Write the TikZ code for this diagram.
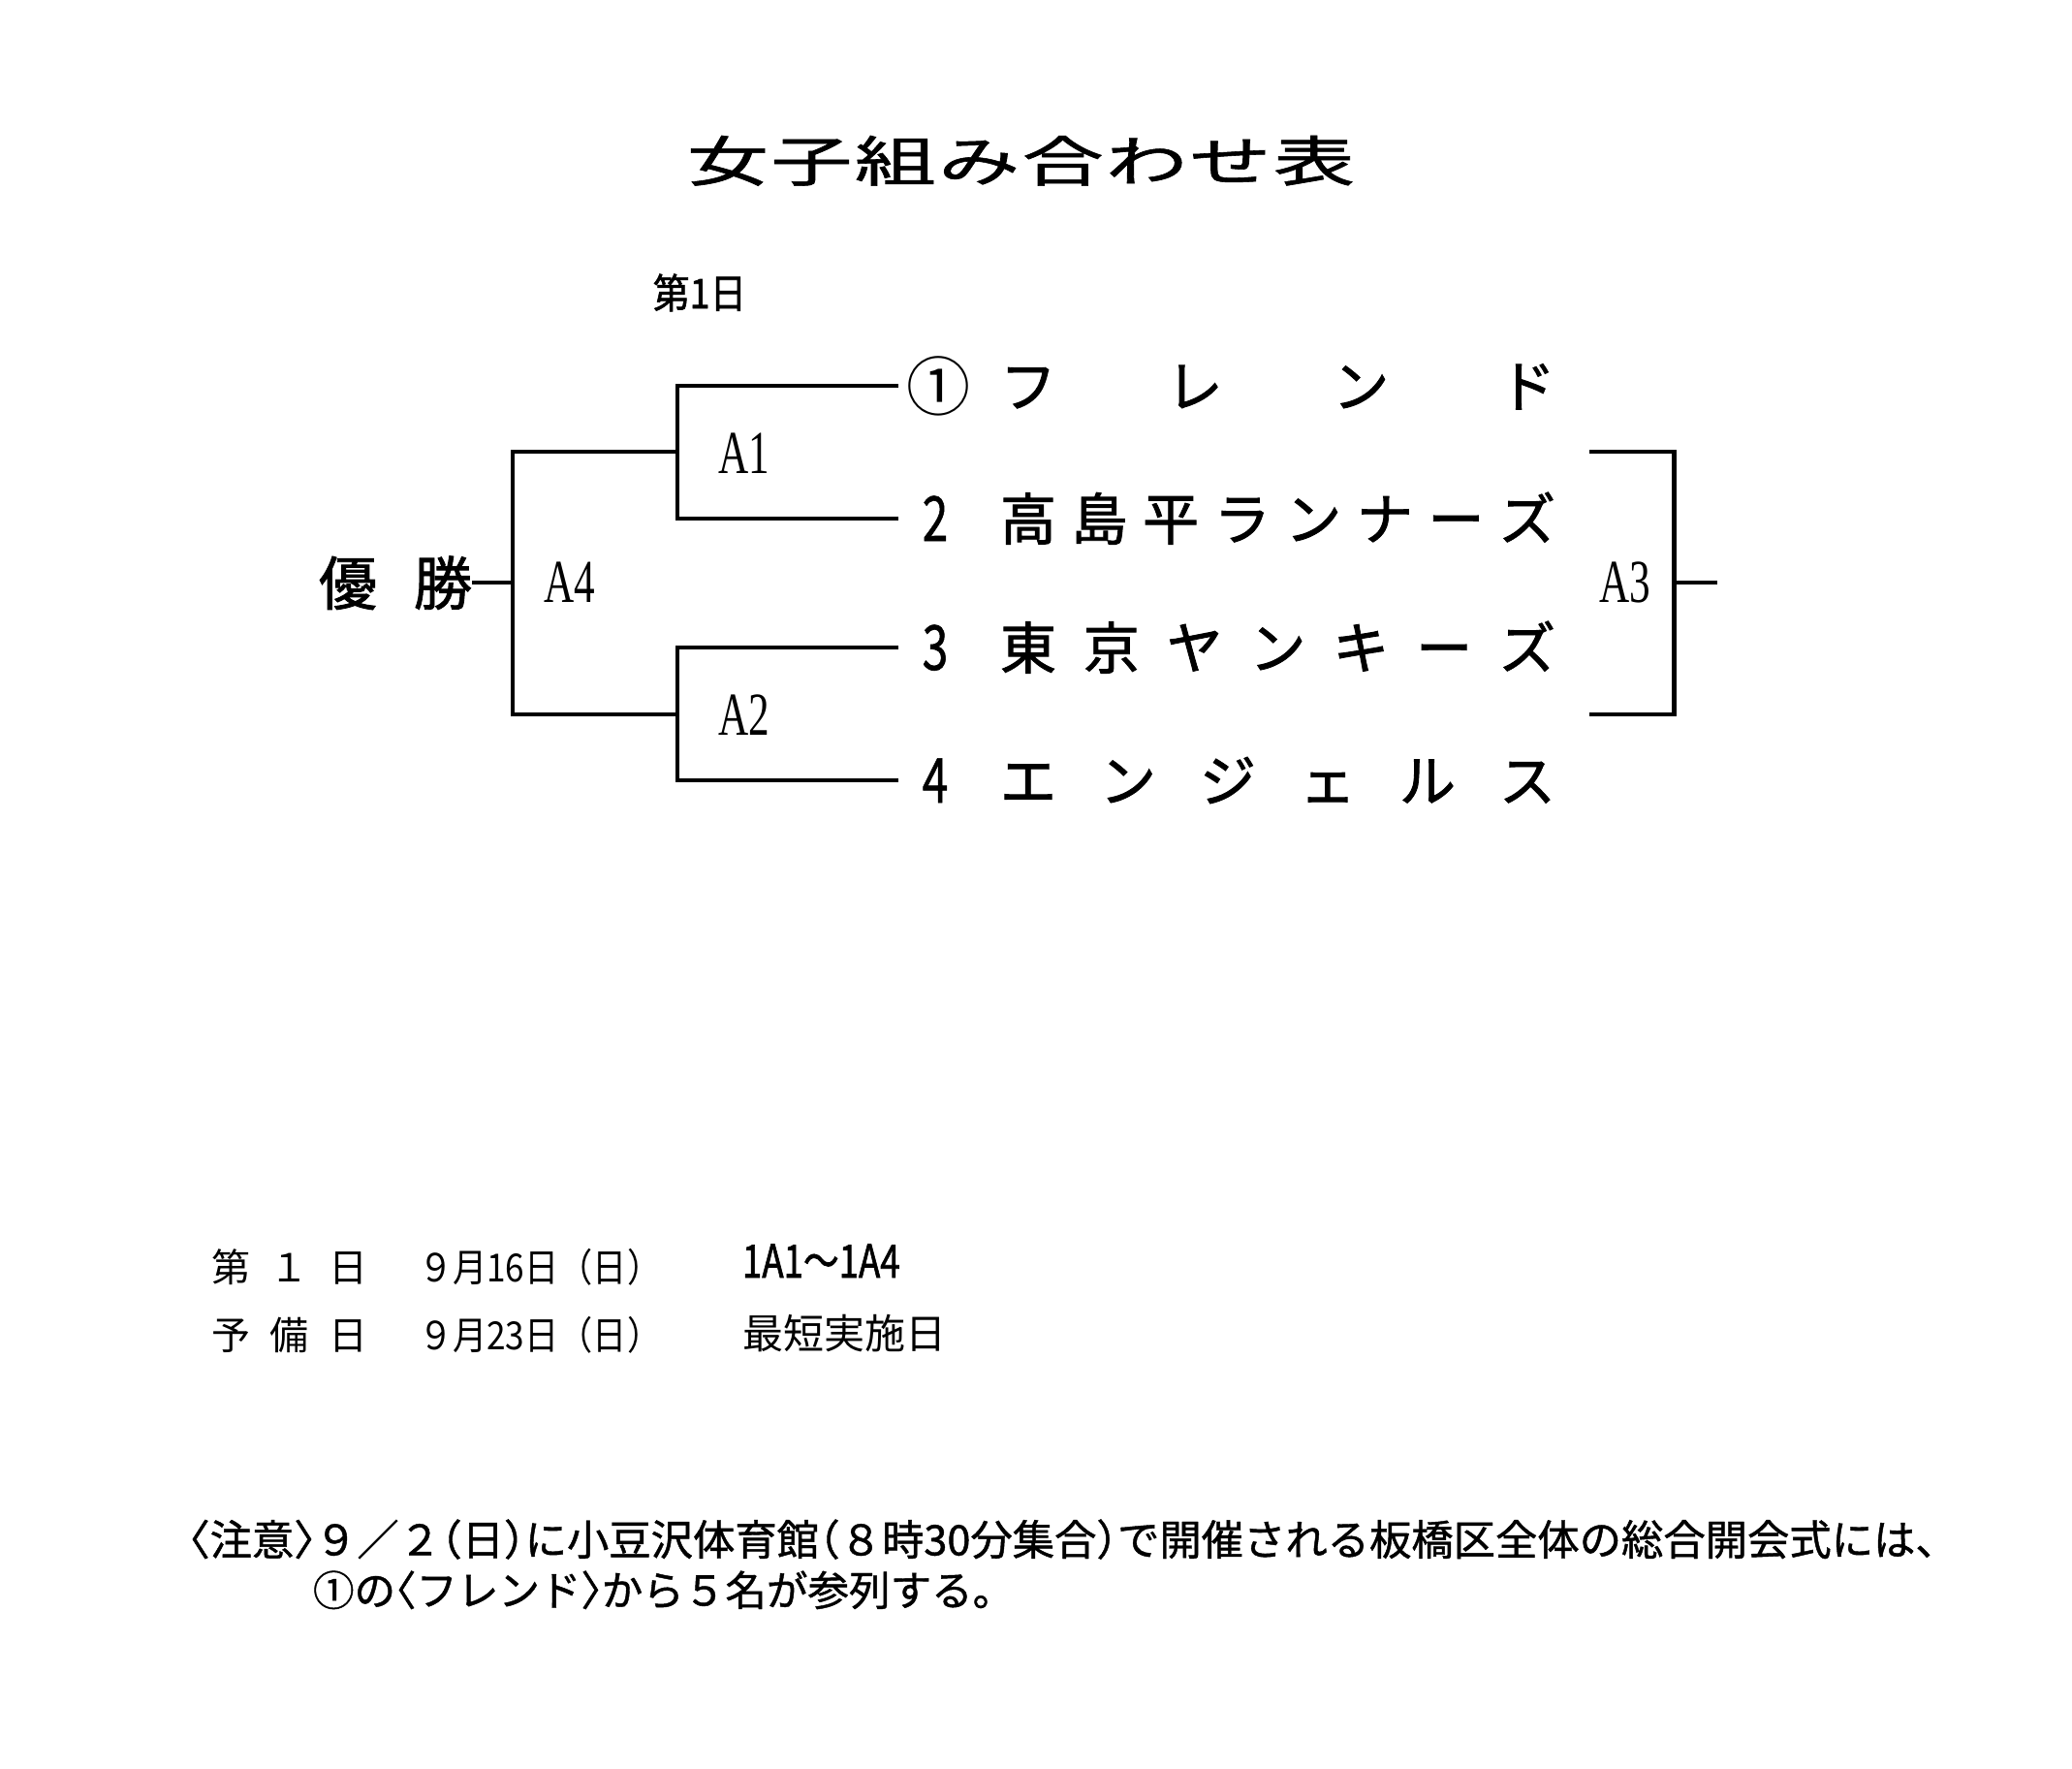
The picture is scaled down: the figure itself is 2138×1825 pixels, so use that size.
\documentclass[tikz,border=0pt]{standalone}
\usepackage{fontspec}
\setmainfont{Noto Sans CJK JP}
\newfontfamily\cjkbold[FakeBold=1.5]{Noto Sans CJK JP}
\newfontfamily\cjksemi[FakeBold=1]{Noto Sans CJK JP}
\newfontfamily\cjknote[FakeBold=1,RawFeature=+halt]{Noto Sans CJK JP}
\newfontfamily\latinserif{Liberation Serif}
\newcommand{\fs}[1]{\fontsize{#1}{#1}\selectfont}
\begin{document}
\begin{tikzpicture}[x=0.5pt,y=-0.5pt,
  txt/.style={inner sep=0pt, outer sep=0pt, anchor=base},
  txtw/.style={inner sep=0pt, outer sep=0pt, anchor=base west},
  bline/.style={line width=2.4pt, line cap=butt, line join=miter},
  matchlbl/.style={txt, font=\latinserif\fs{30}}]
\useasboundingbox[fill=white] (0,0) rectangle (2138,1825);

% title
\node[txt] (title) at (1053.5,187) {\cjksemi\fs{28}\scalebox{1.5}[1]{\makebox[229.7pt]{女\hfill 子\hfill 組\hfill み\hfill 合\hfill わ\hfill せ\hfill 表}}};
\node[txt] (day) at (722,318) {\cjkbold\fs{21}\scalebox{0.9}[1]{第1日}};

% team numbers
\node[txt] (n1) at (968,423) {\fs{33}①};
\node[txt] (n2) at (965,558) {\cjksemi\fs{32}\scalebox{0.75}[1]{2}};
\node[txt] (n3) at (965,691) {\cjksemi\fs{32}\scalebox{0.75}[1]{3}};
\node[txt] (n4) at (965,828) {\cjksemi\fs{32}\scalebox{0.75}[1]{4}};

% team names
\node[txtw] (t1) at (1032,420) {\cjkbold\fs{29}\makebox[286.5pt]{フ\hfill レ\hfill ン\hfill ド}};
\node[txtw] (t2) at (1032,557) {\cjkbold\fs{29}\makebox[286.5pt]{高\hfill 島\hfill 平\hfill ラ\hfill ン\hfill ナ\hfill ー\hfill ズ}};
\node[txtw] (t3) at (1032,690) {\cjkbold\fs{29}\makebox[286.5pt]{東\hfill 京\hfill ヤ\hfill ン\hfill キ\hfill ー\hfill ズ}};
\node[txtw] (t4) at (1032,827) {\cjkbold\fs{29}\makebox[286.5pt]{エ\hfill ン\hfill ジ\hfill ェ\hfill ル\hfill ス}};

% winner
\node[txt] (win) at (408,624) {\cjkbold\fs{30}\makebox[79pt]{優\hfill 勝}};

% match labels
\node[matchlbl] (a1) at (768,488) {\scalebox{0.72}[1.05]{A1}};
\node[matchlbl] (a2) at (768,758) {\scalebox{0.72}[1.05]{A2}};
\node[matchlbl] (a4) at (588,621) {\scalebox{0.72}[1.05]{A4}};
\node[matchlbl] (a3) at (1677,621) {\scalebox{0.72}[1.05]{A3}};

% bracket coordinates
\coordinate (e1) at (927,398);
\coordinate (e2) at (927,535);
\coordinate (e3) at (927,668);
\coordinate (e4) at (927,805);
\coordinate (j1) at (699,466);
\coordinate (j2) at (699,737);
\coordinate (k1) at (529,466);
\coordinate (k2) at (529,737);
\coordinate (k0) at (529,601);
\coordinate (w0) at (487,601);
\coordinate (r1) at (1640,466);
\coordinate (r2) at (1727.5,466);
\coordinate (r3) at (1727.5,737);
\coordinate (r4) at (1640,737);
\coordinate (r0) at (1727.5,601);
\coordinate (r5) at (1772,601);

\draw[bline] (e1) -| (j1) |- (e2);
\draw[bline] (e3) -| (j2) |- (e4);
\draw[bline] (j1) -- (k1) -- (k2) -- (j2);
\draw[bline] (w0) -- (k0);
\draw[bline] (r1) -- (r2) -- (r3) -- (r4);
\draw[bline] (r0) -- (r5);

% schedule
\node[txtw] (d1) at (218,1322) {\fs{20}\makebox[80.5pt]{第\hfill １\hfill 日}};
\node[txtw] (d2) at (218,1392) {\fs{20}\makebox[80.5pt]{予\hfill 備\hfill 日}};
\node[txtw] (dt1) at (432,1322) {\fs{20}\scalebox{0.88}[1]{９月16日（日）}};
\node[txtw] (dt2) at (432,1392) {\fs{20}\scalebox{0.88}[1]{９月23日（日）}};
\node[txtw] (m1) at (766,1318) {\cjkbold\fs{23.5}\scalebox{0.78}[1]{1A1～1A4}};
\node[txtw] (m2) at (766,1391) {\fs{21}最短実施日};

% note
\node[txtw] (note1) at (195,1604.5) {\resizebox{901.5pt}{!}{\cjknote\fs{20}〈注意〉９／２（日）に小豆沢体育館（８時30分集合）で開催される板橋区全体の総合開会式には、}};
\node[txtw] (note2) at (323,1656.5) {\resizebox{351pt}{!}{\cjknote\fs{20}①の〈フレンド〉から５名が参列する。}};
\end{tikzpicture}
\end{document}
